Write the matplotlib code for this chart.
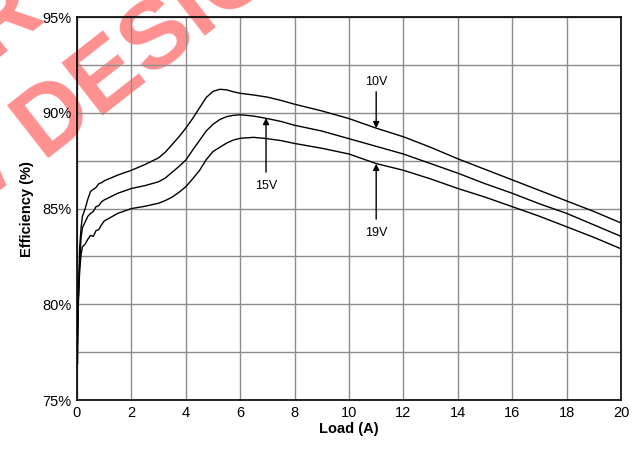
import matplotlib
matplotlib.use("Agg")
import matplotlib.pyplot as plt

plt.rcParams.update({
    "font.family": ["Liberation Sans", "DejaVu Sans"],
    "font.size": 10,
})

# ---------- данные ----------
load_a = [0.02, 0.05, 0.1, 0.15, 0.2, 0.3, 0.4, 0.5, 0.6, 0.7, 0.8, 0.9, 1.0,
          1.5, 2.0, 2.5, 3.0, 3.25, 3.5, 3.75, 4.0, 4.25, 4.5, 4.75, 5.0, 5.25, 5.5, 5.75,
          6.0, 6.5, 7.0, 7.5, 8.0, 9.0, 10.0, 11.0, 12.0, 13.0, 14.0, 15.0, 16.0, 17.0,
          18.0, 19.0, 20.0]
eff_10v = [76.9, 80.5, 83.0, 84.0, 84.6, 85.0, 85.5, 85.9, 86.0, 86.1, 86.3, 86.35, 86.45,
           86.75, 87.0, 87.3, 87.65, 87.95, 88.35, 88.75, 89.2, 89.7, 90.25, 90.8, 91.12, 91.23, 91.2, 91.1,
           91.02, 90.93, 90.82, 90.65, 90.45, 90.1, 89.7, 89.2, 88.75, 88.2, 87.6, 87.05, 86.5, 85.95,
           85.4, 84.85, 84.25]
eff_15v = [78.0, 80.0, 82.2, 83.5, 84.0, 84.3, 84.6, 84.75, 84.85, 85.1, 85.15, 85.35, 85.45,
           85.8, 86.05, 86.2, 86.4, 86.6, 86.9, 87.2, 87.53, 88.05, 88.55, 89.05, 89.4, 89.65, 89.8, 89.87,
           89.9, 89.83, 89.7, 89.55, 89.35, 89.05, 88.65, 88.25, 87.85, 87.35, 86.85, 86.3, 85.8, 85.25,
           84.75, 84.15, 83.55]
eff_19v = [79.0, 80.3, 81.8, 82.6, 83.0, 83.15, 83.4, 83.6, 83.55, 83.85, 83.9, 84.15, 84.35,
           84.75, 85.0, 85.12, 85.28, 85.42, 85.6, 85.85, 86.14, 86.55, 86.98, 87.55, 87.98, 88.2, 88.42, 88.58,
           88.67, 88.72, 88.65, 88.55, 88.4, 88.15, 87.85, 87.35, 87.0, 86.55, 86.05, 85.6, 85.1, 84.6,
           84.05, 83.5, 82.9]

x_ticks = list(range(0, 21, 2))
y_ticks = [75, 80, 85, 90, 95]

# подписи: (текст, позиция текста, кончик стрелки)
labels = [
    ("10V", (11.0, 91.6), (11.0, 89.2)),
    ("15V", (6.95, 86.2), (6.95, 89.73)),
    ("19V", (11.0, 83.75), (11.0, 87.34)),
]

fig = plt.figure(figsize=(6.39, 4.5), dpi=100)
ax = fig.add_axes([0.1205, 0.111, 0.8513, 0.851])
ax.set_facecolor("none")

# водяной знак (красный, под осями)
wm = dict(fontsize=70, fontweight="bold", color="#ff9090", rotation=38,
          rotation_mode="anchor", va="baseline", zorder=-5)
fig.text(42 / 639, 1 - 158 / 450, "DESIGNS", ha="left", **wm)
fig.text(42 / 639, 1 - 158 / 450, "NEW ", ha="right", **wm)
fig.text(48 / 639, 1 - 20 / 450, "RECOMMENDED FOR", ha="right", **wm)

for y in (eff_10v, eff_15v, eff_19v):
    ax.plot(load_a, y, color="black", lw=1.0, zorder=3)

for txt, xy_text, xy_tip in labels:
    start = xy_text[1] - 0.5 if xy_text[1] > xy_tip[1] else xy_text[1] + 0.7
    ax.annotate("", xy=xy_tip, xytext=(xy_text[0], start),
                arrowprops=dict(arrowstyle="-|>", color="black", lw=1.0,
                                mutation_scale=9, shrinkA=0, shrinkB=0), zorder=4)
    ax.text(xy_text[0], xy_text[1], txt, ha="center", va="center", fontsize=9, zorder=4)

ax.set_xlim(0, 20)
ax.set_ylim(75, 95)
ax.set_xticks(x_ticks)
ax.set_yticks(y_ticks)
ax.set_yticklabels([f"{v}%" for v in y_ticks])
ax.set_yticks([77.5, 82.5, 87.5, 92.5], minor=True)
ax.tick_params(which="both", length=0, labelsize=10.5, pad=4)
ax.grid(True, which="both", color="#8c8c8c", lw=1.0, zorder=1)
for s in ax.spines.values():
    s.set_color("black")
    s.set_linewidth(1.2)

ax.set_xlabel("Load (A)", fontweight="bold", fontsize=10.5, labelpad=2)
ax.set_ylabel("Efficiency (%)", fontweight="bold", fontsize=10.5, labelpad=6)

fig.savefig("out.png", dpi=100)
